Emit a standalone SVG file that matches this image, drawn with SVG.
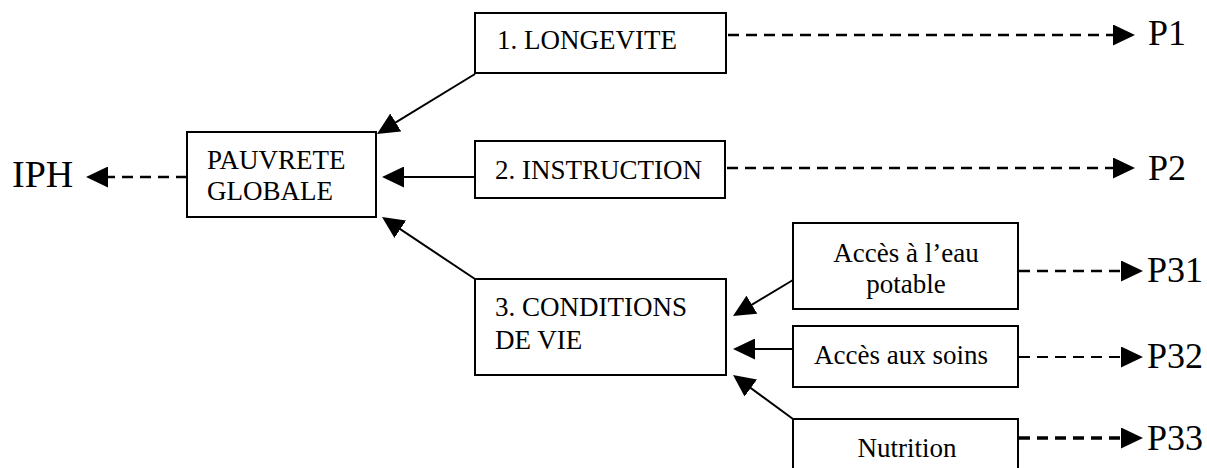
<svg xmlns="http://www.w3.org/2000/svg" width="1207" height="468" viewBox="0 0 1207 468">
<style>
.box{fill:#fff;stroke:#000;stroke-width:2}
.lbl{font-family:"Liberation Serif","Times New Roman",serif;font-size:27px;fill:#000}
.big{font-family:"Liberation Serif","Times New Roman",serif;font-size:36px;fill:#000}
.solid{fill:none;stroke:#000;stroke-width:2;marker-end:url(#ah)}
.dash{fill:none;stroke:#000;stroke-width:2.5;stroke-dasharray:11 7;marker-end:url(#ah)}
</style>
<defs>
<marker id="ah" viewBox="0 0 22 21" refX="10" refY="10.5" markerWidth="22" markerHeight="21" markerUnits="userSpaceOnUse" orient="auto">
<path d="M0,0 L22,10.5 L0,21 Z" fill="#000"/>
</marker>
</defs>
<rect width="1207" height="468" fill="#fff"/>
<g id="connectors">
<line class="dash" x1="187" y1="177" x2="98" y2="177"/>
<line class="solid" x1="475" y1="74" x2="387.2" y2="127.7"/>
<line class="solid" x1="475" y1="177" x2="394" y2="177"/>
<line class="solid" x1="475" y1="279" x2="392" y2="223.7"/>
<line class="dash" x1="728" y1="35" x2="1123" y2="35"/>
<line class="dash" x1="727" y1="168" x2="1123" y2="168"/>
<line class="solid" x1="793" y1="280" x2="743.3" y2="309.8"/>
<line class="solid" x1="793" y1="349" x2="745" y2="349"/>
<line class="solid" x1="793" y1="419" x2="742.7" y2="382.1"/>
<line class="dash" x1="1019" y1="271" x2="1131" y2="271"/>
<line class="dash" x1="1019" y1="357" x2="1131" y2="357" style="stroke-width:2"/>
<line class="dash" x1="1019" y1="438" x2="1131" y2="438" style="stroke-width:3.5"/>
</g>
<g id="iph"><text class="big" x="12" y="187" style="font-size:38px">IPH</text></g>
<g id="pauvrete">
<rect class="box" x="187" y="132" width="189" height="85"/>
<text class="lbl" x="207" y="169">PAUVRETE</text>
<text class="lbl" x="207" y="200">GLOBALE</text>
</g>
<g id="longevite">
<rect class="box" x="475" y="13" width="251" height="60"/>
<text class="lbl" x="497" y="49">1. LONGEVITE</text>
</g>
<g id="instruction">
<rect class="box" x="475" y="141" width="250" height="57"/>
<text class="lbl" x="495" y="179">2. INSTRUCTION</text>
</g>
<g id="conditions">
<rect class="box" x="475" y="279" width="251" height="96"/>
<text class="lbl" x="495" y="316">3. CONDITIONS</text>
<text class="lbl" x="495" y="349">DE VIE</text>
</g>
<g id="eau">
<rect class="box" x="793" y="223" width="225" height="86"/>
<text class="lbl" x="906" y="262" text-anchor="middle">Accès à l’eau</text>
<text class="lbl" x="906" y="293" text-anchor="middle">potable</text>
</g>
<g id="soins">
<rect class="box" x="793" y="326" width="225" height="61"/>
<text class="lbl" x="901" y="364" text-anchor="middle">Accès aux soins</text>
</g>
<g id="nutrition">
<rect class="box" x="793" y="419" width="225" height="60"/>
<text class="lbl" x="907" y="457" text-anchor="middle">Nutrition</text>
</g>
<g id="p1"><text class="big" x="1148" y="45">P1</text></g>
<g id="p2"><text class="big" x="1148" y="180">P2</text></g>
<g id="p31"><text class="big" x="1147" y="282">P31</text></g>
<g id="p32"><text class="big" x="1147" y="368">P32</text></g>
<g id="p33"><text class="big" x="1147" y="450">P33</text></g>
</svg>
